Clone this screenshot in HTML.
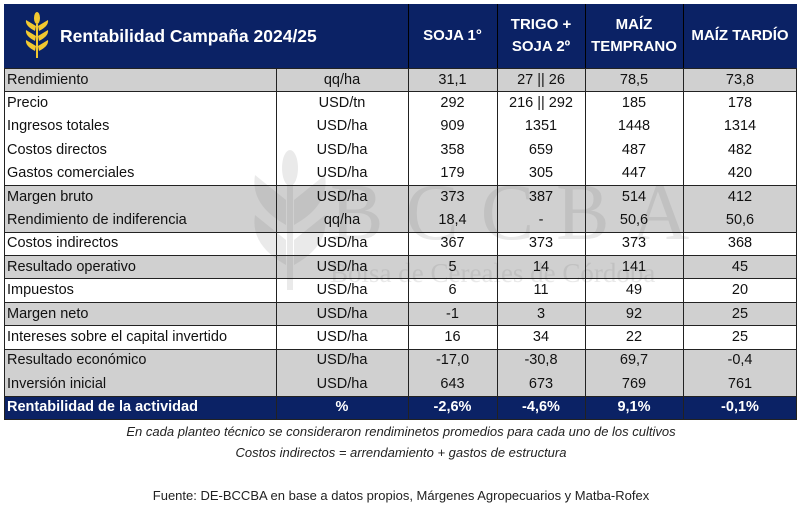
<!DOCTYPE html>
<html><head><meta charset="utf-8"><style>
body{margin:0;width:802px;height:510px;background:#fff;position:relative;overflow:hidden;font-family:"Liberation Sans",sans-serif;}
.r{position:absolute;left:4px;width:793px;font-size:14.5px;color:#111;}
.c{position:absolute;top:0;height:100%;display:flex;align-items:center;justify-content:center;}
.l{justify-content:flex-start;padding-left:3px;}
.g{background:#d0d0d0;}
.vl{position:absolute;top:68px;height:351px;width:1px;background:#222;}
.hl{position:absolute;left:4px;width:793px;height:1px;background:#222;}
.wm{position:absolute;color:rgba(120,120,120,0.16);font-family:"Liberation Serif",serif;}
</style></head><body>
<div style="position:absolute;left:4px;top:4px;width:793px;height:64px;background:#0b2265;"></div>
<svg style="position:absolute;left:24px;top:12px" width="26" height="46" viewBox="0 0 26 46">
<g fill="#f2c830"><ellipse cx="13" cy="6" rx="3" ry="6"/>
<path d="M12 14 L2 8 Q1 14 11 19Z"/><path d="M14 14 L24 8 Q25 14 15 19Z"/>
<path d="M12 24 L2 18 Q1 24 11 29Z"/><path d="M14 24 L24 18 Q25 24 15 29Z"/>
<path d="M12 34 L2 28 Q1 34 11 39Z"/><path d="M14 34 L24 28 Q25 34 15 39Z"/>
<rect x="12" y="12" width="2" height="34"/></g></svg>
<div style="position:absolute;left:60px;top:26px;color:#fff;font-weight:bold;font-size:17.5px;">Rentabilidad Campaña 2024/25</div>
<div style="position:absolute;left:408px;top:4px;width:1px;height:64px;background:#000"></div>
<div style="position:absolute;left:497px;top:4px;width:1px;height:64px;background:#000"></div>
<div style="position:absolute;left:585px;top:4px;width:1px;height:64px;background:#000"></div>
<div style="position:absolute;left:683px;top:4px;width:1px;height:64px;background:#000"></div>
<div class="r" style="top:4px;height:64px;color:#fff;font-weight:bold;font-size:15px;text-align:center;line-height:22px">
<div class="c" style="left:404px;width:89px">SOJA 1°</div>
<div class="c" style="left:493px;width:88px">TRIGO +<br>SOJA 2º</div>
<div class="c" style="left:581px;width:98px">MAÍZ<br>TEMPRANO</div>
<div class="c" style="left:679px;width:114px">MAÍZ TARDÍO</div>
</div>
<div class="g" style="position:absolute;left:4px;width:793px;top:68px;height:23px"></div>
<div class="g" style="position:absolute;left:4px;width:793px;top:185px;height:47px"></div>
<div class="g" style="position:absolute;left:4px;width:793px;top:255px;height:23px"></div>
<div class="g" style="position:absolute;left:4px;width:793px;top:302px;height:23px"></div>
<div class="g" style="position:absolute;left:4px;width:793px;top:349px;height:47px"></div>
<div style="position:absolute;left:4px;width:793px;top:396px;height:23px;background:#0b2265"></div>
<div class="wm" style="left:330px;top:168px;font-size:80px;letter-spacing:22px">BCCBA</div>
<div class="wm" style="left:330px;top:258px;font-size:27px">Bolsa de Cereales de Córdoba</div>
<svg style="position:absolute;left:250px;top:150px;opacity:0.15" width="80" height="140" viewBox="0 0 80 140"><g fill="#777"><rect x="37" y="20" width="6" height="120"/><path d="M36 50 L5 25 Q0 55 36 75Z"/><path d="M44 50 L75 25 Q80 55 44 75Z"/><path d="M36 90 L5 65 Q0 95 36 115Z"/><path d="M44 90 L75 65 Q80 95 44 115Z"/><ellipse cx="40" cy="18" rx="8" ry="18"/></g></svg>
<div id="rows"></div>
<script>
var d=[["Rendimiento","qq/ha","31,1","27 || 26","78,5","73,8"],
["Precio","USD/tn","292","216 || 292","185","178"],
["Ingresos totales","USD/ha","909","1351","1448","1314"],
["Costos directos","USD/ha","358","659","487","482"],
["Gastos comerciales","USD/ha","179","305","447","420"],
["Margen bruto","USD/ha","373","387","514","412"],
["Rendimiento de indiferencia","qq/ha","18,4","-","50,6","50,6"],
["Costos indirectos","USD/ha","367","373","373","368"],
["Resultado operativo","USD/ha","5","14","141","45"],
["Impuestos","USD/ha","6","11","49","20"],
["Margen neto","USD/ha","-1","3","92","25"],
["Intereses sobre el capital invertido","USD/ha","16","34","22","25"],
["Resultado económico","USD/ha","-17,0","-30,8","69,7","-0,4"],
["Inversión inicial","USD/ha","643","673","769","761"],
["Rentabilidad de la actividad","%","-2,6%","-4,6%","9,1%","-0,1%"]];
var x=[0,272,404,493,581,679,793],h="";
d.forEach(function(r,i){var t=68+i*23.4;var st=i==14?"color:#fff;font-weight:bold;":"";
h+='<div class="r" style="top:'+t+'px;height:23.4px;'+st+'">';
r.forEach(function(v,j){h+='<div class="c'+(j==0?' l':'')+'" style="left:'+x[j]+'px;width:'+(x[j+1]-x[j])+'px">'+v+'</div>';});
h+='</div>';});
document.getElementById('rows').innerHTML=h;
</script>
<div class="vl" style="left:4px"></div><div class="vl" style="left:276px"></div><div class="vl" style="left:408px"></div><div class="vl" style="left:497px"></div><div class="vl" style="left:585px"></div><div class="vl" style="left:683px"></div><div class="vl" style="left:796px"></div>
<div class="hl" style="top:68px"></div><div class="hl" style="top:91px"></div><div class="hl" style="top:185px"></div><div class="hl" style="top:232px"></div><div class="hl" style="top:255px"></div><div class="hl" style="top:278px"></div><div class="hl" style="top:302px"></div><div class="hl" style="top:325px"></div><div class="hl" style="top:349px"></div><div class="hl" style="top:396px"></div><div class="hl" style="top:419px"></div>
<div style="position:absolute;left:0;width:802px;top:424px;text-align:center;font-style:italic;font-size:13px;color:#222">En cada planteo técnico se consideraron rendiminetos promedios para cada uno de los cultivos</div>
<div style="position:absolute;left:0;width:802px;top:445px;text-align:center;font-style:italic;font-size:13px;color:#222">Costos indirectos = arrendamiento + gastos de estructura</div>
<div style="position:absolute;left:0;width:802px;top:488px;text-align:center;font-size:13px;color:#222">Fuente: DE-BCCBA en base a datos propios, Márgenes Agropecuarios y Matba-Rofex</div>
</body></html>
